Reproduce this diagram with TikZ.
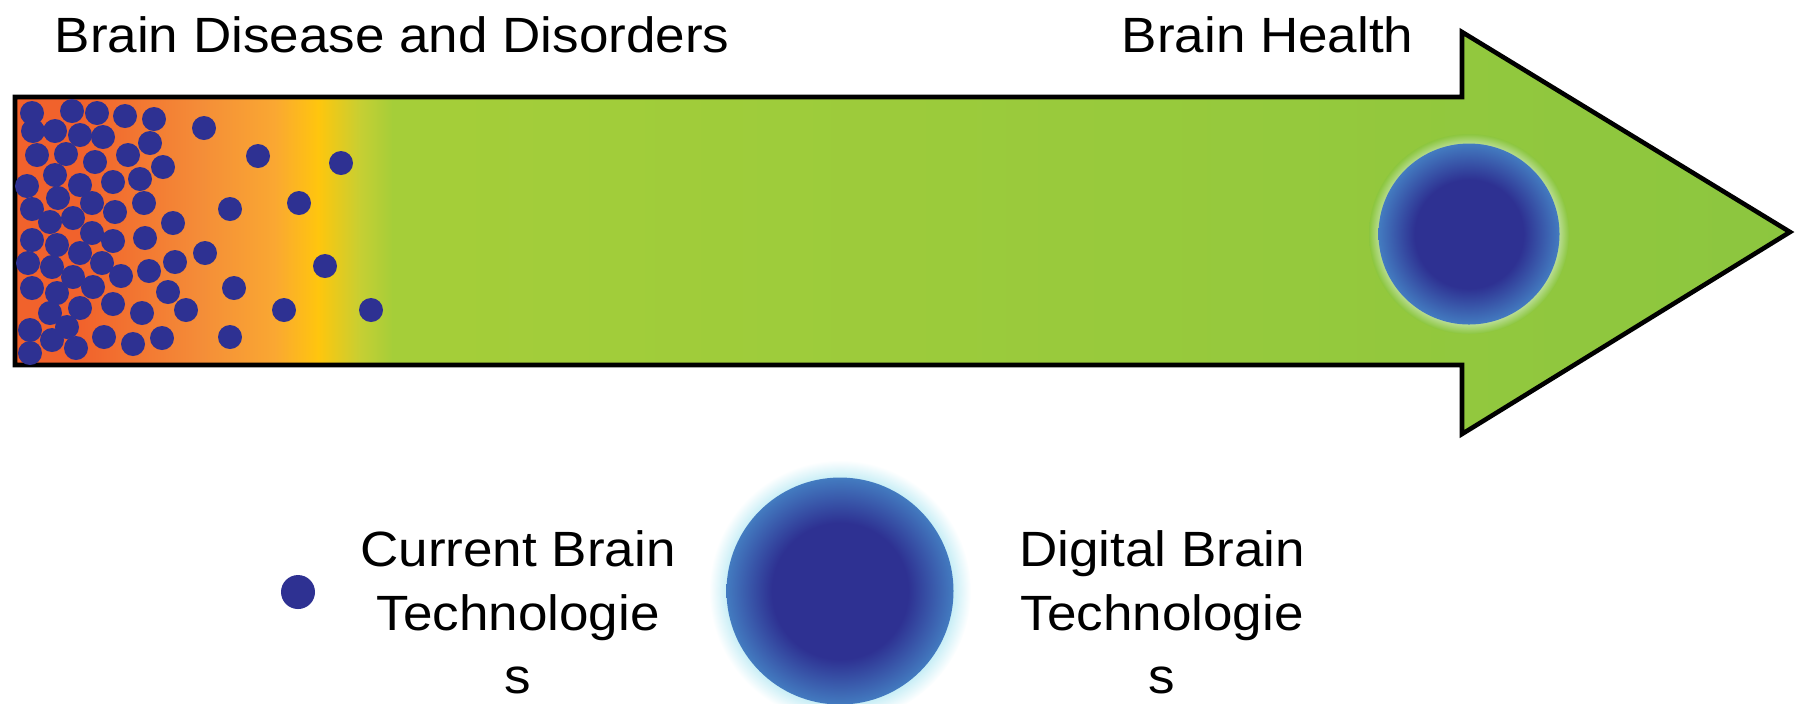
\documentclass[tikz,border=0pt]{standalone}
\usepackage{xcolor}
\usepackage{tikz}
\usepackage{fontspec}
\setmainfont{Liberation Sans}[FakeStretch=1.07]

\definecolor{dotblue}{HTML}{2E3192}
\definecolor{ballrim}{HTML}{437BC0}
\definecolor{hotred}{HTML}{F1622C}
\definecolor{midorange}{HTML}{F48D38}
\definecolor{lightorange}{HTML}{FAA832}
\definecolor{sunyellow}{HTML}{FFC60D}
\definecolor{limeyellow}{HTML}{C6CF33}
\definecolor{limegreen}{HTML}{A5CE39}
\definecolor{leafgreen}{HTML}{8CC63F}
\definecolor{paleglow}{HTML}{B9DD92}
\definecolor{cyanglow}{HTML}{C8EEF6}

\pgfdeclareradialshading{digiball}{\pgfpoint{0bp}{0bp}}{color(0bp)=(dotblue); color(15bp)=(dotblue); color(25bp)=(ballrim); color(50bp)=(ballrim)}
\pgfdeclareradialshading{arrowglow}{\pgfpoint{0bp}{0bp}}{color(0bp)=(paleglow); color(22.5bp)=(paleglow); color(25bp)=(leafgreen); color(50bp)=(leafgreen)}
\pgfdeclareradialshading{paperglow}{\pgfpoint{0bp}{0bp}}{color(0bp)=(cyanglow); color(21.6bp)=(cyanglow); color(25bp)=(white); color(50bp)=(white)}

\tikzset{
  label text/.style={inner sep=0pt, font=\fontsize{14.1}{17.93}\selectfont},
  legend text/.style={label text, align=center},
  tech dot/.style={fill=dotblue}
}

\begin{document}
\begin{tikzpicture}[y=-1cm]
\useasboundingbox (0,0) rectangle (17.96,7.03);
\begin{scope}
\clip (0.15,0.97) -- (14.62,0.97) -- (14.62,0.32) -- (17.9,2.32) -- (14.62,4.34) -- (14.62,3.65) -- (0.15,3.65) -- cycle;
\fill[hotred] (0,0.2) rectangle (0.81,4.4);
\foreach \xa/\xb/\ca/\cb in {0.8/2.01/hotred/midorange, 2/2.76/midorange/lightorange, 2.75/3.19/lightorange/sunyellow, 3.18/3.61/sunyellow/limeyellow, 3.6/3.93/limeyellow/limegreen, 3.92/17.96/limegreen/leafgreen}
    \shade[left color=\ca, right color=\cb] (\xa,0.2) rectangle (\xb,4.4);
\end{scope}
\draw[line width=1.3pt, miter limit=10] (0.15,0.97) -- (14.62,0.97) -- (14.62,0.32) -- (17.9,2.32) -- (14.62,4.34) -- (14.62,3.65) -- (0.15,3.65) -- cycle;
\foreach \p in {(0.32,1.13),(0.72,1.11),(0.97,1.13),(1.25,1.16),(1.54,1.19),(2.04,1.28),
    (0.33,1.31),(0.55,1.31),(0.80,1.35),(1.03,1.37),(1.50,1.43),(2.58,1.56),(3.41,1.63),
    (0.37,1.55),(0.66,1.54),(0.95,1.62),(1.28,1.55),(1.63,1.67),
    (0.55,1.75),(0.27,1.86),(0.80,1.85),(1.13,1.82),(1.40,1.79),
    (0.58,1.98),(1.44,2.03),(0.32,2.09),(0.92,2.03),(2.30,2.09),(2.99,2.03),
    (0.50,2.22),(0.73,2.18),(1.15,2.12),(1.73,2.23),
    (0.32,2.40),(0.57,2.45),(0.92,2.33),(1.13,2.41),(1.45,2.38),
    (0.28,2.63),(0.80,2.53),(0.52,2.67),(1.02,2.63),(2.05,2.53),(1.75,2.62),(3.25,2.66),
    (0.32,2.88),(0.73,2.77),(0.57,2.93),(0.93,2.87),(1.21,2.76),(1.49,2.71),(1.68,2.92),(2.34,2.88),
    (0.50,3.13),(0.80,3.08),(1.13,3.04),(1.42,3.13),(1.86,3.10),(2.84,3.10),(3.71,3.10),
    (0.30,3.30),(0.67,3.27),(0.52,3.40),(0.76,3.48),(1.04,3.37),(1.33,3.44),(1.62,3.38),(2.30,3.37),
    (0.30,3.53)}
    \fill[tech dot] \p circle (0.12);
\shade[shading=arrowglow] (14.69,2.34) circle (1.0);
\shade[shading=digiball] (14.69,2.34) circle (0.905);
\node[label text, anchor=base west] (sick) at (0.54,0.52) {Brain Disease and Disorders};
\node[label text, anchor=base west] (well) at (11.21,0.52) {Brain Health};
\fill[tech dot] (2.98,5.92) circle (0.17);
\node[legend text, anchor=base] (current) at (5.18,6.93) {Current Brain\\Technologie\\s};
\shade[shading=paperglow] (8.40,5.91) circle (1.31);
\shade[shading=digiball] (8.40,5.91) circle (1.135);
\node[legend text, anchor=base] (digital) at (11.62,6.93) {Digital Brain\\Technologie\\s};
\end{tikzpicture}
\end{document}
